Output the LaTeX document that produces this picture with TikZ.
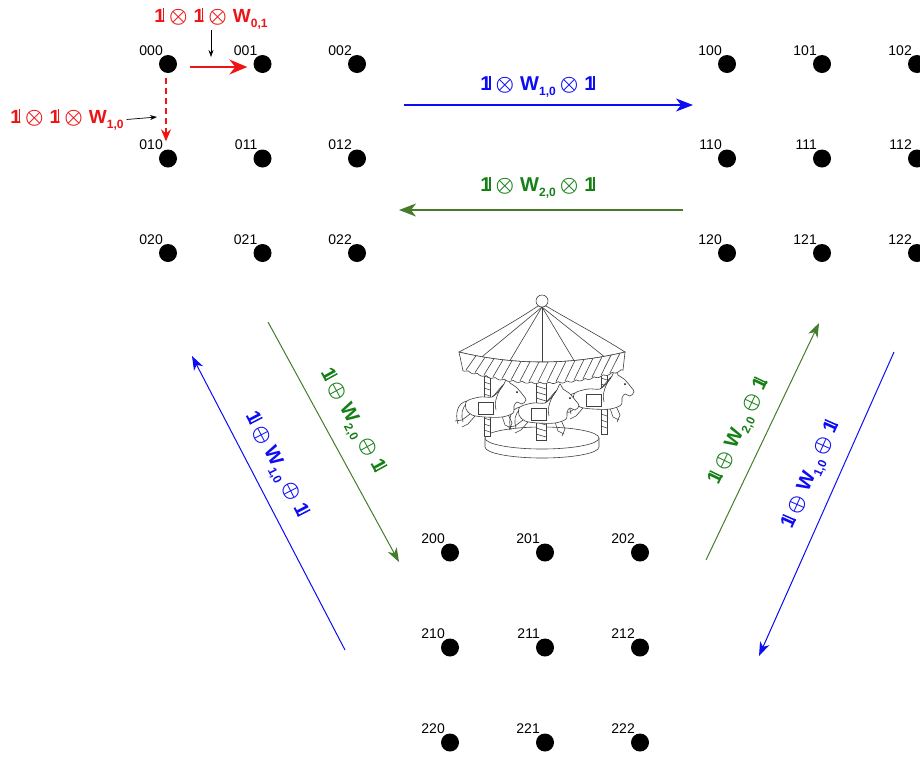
\documentclass[tikz,border=0pt]{standalone}
\usepackage{amsmath}
\usepackage{fontspec}
\setmainfont{Liberation Sans}
\usetikzlibrary{arrows.meta}

\definecolor{opred}{RGB}{238,20,20}
\definecolor{opblue}{RGB}{12,12,245}
\definecolor{opgreen}{RGB}{22,128,22}
\definecolor{arrgreen}{RGB}{68,124,44}

% identity operator, a 1 with a second stem
\newcommand{\idop}{1\kern-.12em\rule{.075em}{.716em}\kern.05em}
\newcommand{\ot}{\kern4pt{\fontsize{22}{22}\selectfont$\boldsymbol{\otimes}$}\kern6pt}
\newcommand{\op}{\kern4pt{\fontsize{22}{22}\selectfont$\boldsymbol{\oplus}$}\kern6pt}
\newcommand{\wsub}[1]{W\raisebox{-.5ex}{\fontsize{12}{12}\selectfont\bfseries #1}}

\tikzset{
  site/.style={circle,fill=black,inner sep=0pt,minimum size=18pt},
  idx/.style={font=\fontsize{14}{14}\selectfont,inner sep=0pt,anchor=base east},
  oplabel/.style={font=\fontsize{20}{20}\selectfont\bfseries,inner sep=1pt},
  hop/.style={-{Stealth[length=17pt,width=13pt,inset=5pt]},line width=1.2pt},
  slant/.style={-{Stealth[length=14pt,width=10pt,inset=4pt]},line width=1pt},
  pointer/.style={-{Stealth[length=7pt,width=5pt]},line width=.7pt},
  sketch/.style={line width=.6pt,draw=black!75},
}

% one carousel horse, body centre at #1
\newcommand{\horse}[1]{%
\begin{scope}[shift={#1}]
\draw (-23,-7) .. controls (-33,-5) and (-35,6) .. (-32,16);
\draw (-22,-5) .. controls (-29,-1) and (-29,8) .. (-27,14);
\draw (-20,6) -- (-28,12) -- (-35,13);
\draw (-15,8) -- (-22,16) -- (-28,19);
\draw (18,6) -- (22,15) -- (19,22);
\draw (12,8) -- (15,17) -- (21,20);
\draw[fill=white] plot[smooth cycle,tension=.55] coordinates {(-23,-7) (-10,-11) (2,-11) (9,-17) (14,-24) (17,-30) (20,-25) (26,-21) (33,-13) (36,-8) (32,-4) (27,-6) (24,-2) (23,5) (12,9) (-5,9) (-18,7) (-24,1)};
\draw (14,-24) .. controls (8,-18) and (5,-13) .. (2,-11);
\draw (12,-22) .. controls (6,-12) and (4,-4) .. (6,2);
\draw[fill=white] (-12,-6) rectangle (3,6);
\fill (27,-16) circle (1);
\end{scope}}

\begin{document}
\begin{tikzpicture}[x=1pt,y=-1pt]
\useasboundingbox (0,0) rectangle (920,756);

% lattice 0xx
\foreach \r in {0,1,2}{\foreach \c in {0,1,2}{
  \node[site] (s0\r\c) at (168+94.5*\c,64+94.5*\r) {};
  \node[idx] at ([shift={(-5,-9)}]s0\r\c.center) {0\r\c};
}}
% lattice 1xx
\foreach \r in {0,1,2}{\foreach \c in {0,1,2}{
  \node[site] (s1\r\c) at (727+95*\c,64+94.5*\r) {};
  \node[idx] at ([shift={(-5,-9)}]s1\r\c.center) {1\r\c};
}}
% lattice 2xx
\foreach \r in {0,1,2}{\foreach \c in {0,1,2}{
  \node[site] (s2\r\c) at (450+95*\c,552.5+95*\r) {};
  \node[idx] at ([shift={(-5,-9)}]s2\r\c.center) {2\r\c};
}}

% single hops inside 0xx
\draw[opred,-{Stealth[length=18pt,width=15pt,inset=6pt]},line width=1.8pt,shorten <=13pt,shorten >=6pt]
  ([yshift=-3pt]s000.east) -- ([yshift=-3pt]s001.west);
\draw[opred,dashed,dash pattern=on 6pt off 4pt,-{Stealth[length=12pt,width=10pt,inset=4pt]},line width=1.5pt,shorten <=5pt,shorten >=8pt]
  ([xshift=-2pt]s000.south) -- ([xshift=-2pt]s010.north);

\node[oplabel,opred,font=\fontsize{19}{19}\selectfont\bfseries,anchor=base] (w01) at (211,22) {\idop\ot\idop\ot\wsub{0,1}};
\node[oplabel,opred,font=\fontsize{19}{19}\selectfont\bfseries,anchor=base] (w10) at (67,123) {\idop\ot\idop\ot\wsub{1,0}};
\coordinate (w01tip) at (211,57);
\coordinate (w10tip) at (157,117);
\draw[pointer] (w01.south) -- (w01tip);
\draw[pointer,shorten <=2pt] (w10.east) -- (w10tip);

% hops between the blocks
\coordinate (b1s) at (404,105);
\coordinate (b1e) at (693,105);
\coordinate (g1s) at (683,210);
\coordinate (g1e) at (399,210);
\draw[hop,opblue] (b1s) -- (b1e);
\draw[hop,arrgreen] (g1s) -- (g1e);
\node[oplabel,opblue,anchor=base] (lb1) at (538,90) {\idop\ot\wsub{1,0}\ot\idop};
\node[oplabel,opgreen,anchor=base] (lg1) at (538,191) {\idop\ot\wsub{2,0}\ot\idop};

\coordinate (g2s) at (268,322);
\coordinate (g2e) at (399,562);
\coordinate (b2s) at (345,650);
\coordinate (b2e) at (192,356);
\draw[slant,arrgreen] (g2s) -- (g2e);
\draw[slant,opblue] (b2s) -- (b2e);
\node[oplabel,opgreen,rotate=-61.4] (lg2) at (351,421) {\idop\op\wsub{2,0}\op\idop};
\node[oplabel,opblue,rotate=-62.6] (lb2) at (275,465) {\idop\op\wsub{1,0}\op\idop};

\coordinate (g3s) at (706,560);
\coordinate (g3e) at (819,323);
\coordinate (b3s) at (894,352);
\coordinate (b3e) at (759,656);
\draw[slant,arrgreen] (g3s) -- (g3e);
\draw[slant,opblue] (b3s) -- (b3e);
\node[oplabel,opgreen,rotate=64.5] (lg3) at (740,432) {\idop\op\wsub{2,0}\op\idop};
\node[oplabel,opblue,rotate=66.1] (lb3) at (812,475) {\idop\op\wsub{1,0}\op\idop};

% carousel
\begin{scope}[sketch]
\draw[fill=white] (485,438) -- (485,447) arc (180:0:57 and 11) -- (599,438);
\draw[fill=white] (542,438) ellipse (57 and 11);
\draw[fill=white] (484,372) rectangle (490,436);
\foreach \py in {376,382,...,430} \draw (484,\py) -- (490,\py+2);
\draw[fill=white] (536,382) rectangle (546,440);
\foreach \py in {386,392,...,434} \draw (536,\py) -- (546,\py+3);
\draw[fill=white] (601,368) rectangle (607,434);
\foreach \py in {372,378,...,428} \draw (601,\py) -- (607,\py+2);
\horse{(598,400)}
\horse{(543,414)}
\horse{(490,408)}
\draw[fill=white] (459,352) .. controls (490,336) and (520,318) .. (538,306) -- (546,306)
  .. controls (566,318) and (600,336) .. (625,352)
  -- plot[domain=625:459,samples=40] (\x,{362-10*((\x-542)/83)^2}) -- cycle;
\foreach \rx in {482,510,542,574,604}{
  \pgfmathsetmacro\ry{362-10*((\rx-542)/83)^2}
  \draw (542,307) -- (\rx,\ry);
}
\draw[fill=white] plot[domain=459:625,samples=40] (\x,{362-10*((\x-542)/83)^2})
  -- plot[domain=623:463,samples=90] (\x,{382-13*((\x-543)/80)^2+1.8*abs(sin(20*\x))}) -- cycle;
\foreach \sx in {466,475,...,610}{
  \pgfmathsetmacro\yb{382-13*((\sx-543)/80)^2}
  \pgfmathsetmacro\tx{\sx+10}
  \pgfmathsetmacro\yt{362-10*((\tx-542)/83)^2}
  \draw (\sx,\yb) -- (\tx,\yt);
}
\draw[fill=white] (542,301) circle (6);
\end{scope}
\end{tikzpicture}
\end{document}
